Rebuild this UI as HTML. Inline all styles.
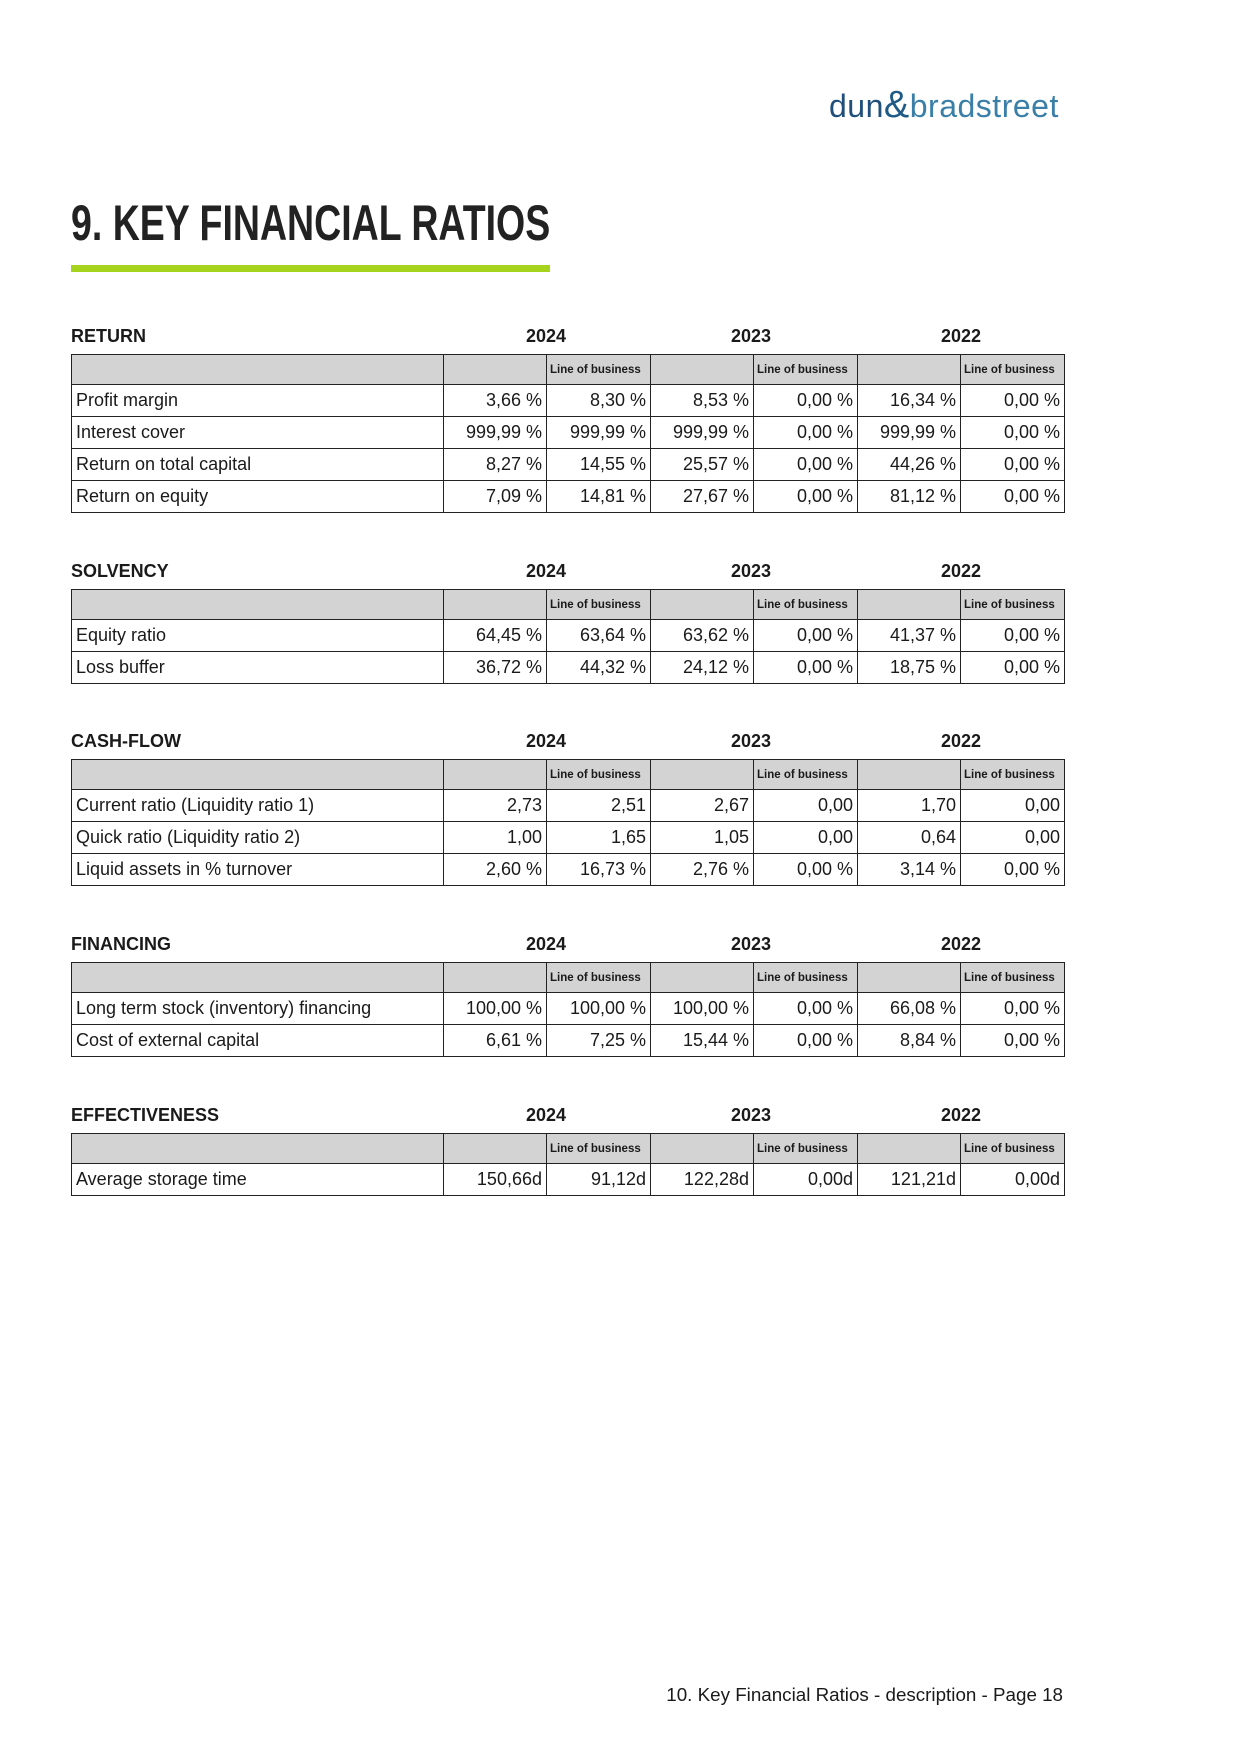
<!DOCTYPE html>
<html><head><meta charset="utf-8"><style>
body{margin:0;width:1241px;height:1754px;background:#fff;position:relative;font-family:"Liberation Sans",sans-serif;color:#1a1a1a;overflow:hidden}
.logo{position:absolute;left:829px;top:84px;font-size:32px;color:#3a7fa8;letter-spacing:0.5px}
.logo b{font-weight:normal;color:#1f4f7a}
.logo i{font-style:normal;color:#1f5a86;font-size:38px}
.title{position:absolute;left:71px;top:194px;font-weight:bold;font-size:50px;transform:scaleX(0.75);transform-origin:left top;color:#222;white-space:nowrap}
.bar{position:absolute;left:71px;top:265px;width:479px;height:7px;background:#a6d41d}
.sec{position:absolute;left:71px;width:1001px}
.h{position:relative;height:20px;font-weight:bold;font-size:18px}
.h span{position:absolute;top:0}
table{border-collapse:collapse;margin-top:8px;table-layout:fixed;width:992px}
td{border:1.3px solid #222;font-size:18px;padding:0 4px;height:31px;text-align:right;white-space:nowrap;overflow:hidden}
td:first-child{text-align:left}
tr.hd td{background:#d3d3d3;height:29px;font-size:11.5px;font-weight:bold;text-align:left;padding:0 3px}
.foot{position:absolute;right:178px;top:1684px;font-size:18.8px}
</style></head><body>
<div class="logo"><b>dun</b><i>&amp;</i>bradstreet</div>
<div class="title">9. KEY FINANCIAL RATIOS</div>
<div class="bar"></div>

<div class="sec" style="top:326px">
<div class="h"><span style="left:0">RETURN</span><span style="left:455px">2024</span><span style="left:660px">2023</span><span style="left:870px">2022</span></div>
<table><colgroup><col style="width:372px"><col style="width:103px"><col style="width:104px"><col style="width:103px"><col style="width:104px"><col style="width:103px"><col style="width:104px"></colgroup>
<tr class="hd"><td></td><td></td><td>Line of business</td><td></td><td>Line of business</td><td></td><td>Line of business</td></tr>
<tr><td>Profit margin</td><td>3,66 %</td><td>8,30 %</td><td>8,53 %</td><td>0,00 %</td><td>16,34 %</td><td>0,00 %</td></tr>
<tr><td>Interest cover</td><td>999,99 %</td><td>999,99 %</td><td>999,99 %</td><td>0,00 %</td><td>999,99 %</td><td>0,00 %</td></tr>
<tr><td>Return on total capital</td><td>8,27 %</td><td>14,55 %</td><td>25,57 %</td><td>0,00 %</td><td>44,26 %</td><td>0,00 %</td></tr>
<tr><td>Return on equity</td><td>7,09 %</td><td>14,81 %</td><td>27,67 %</td><td>0,00 %</td><td>81,12 %</td><td>0,00 %</td></tr>
</table></div>

<div class="sec" style="top:561px">
<div class="h"><span style="left:0">SOLVENCY</span><span style="left:455px">2024</span><span style="left:660px">2023</span><span style="left:870px">2022</span></div>
<table><colgroup><col style="width:372px"><col style="width:103px"><col style="width:104px"><col style="width:103px"><col style="width:104px"><col style="width:103px"><col style="width:104px"></colgroup>
<tr class="hd"><td></td><td></td><td>Line of business</td><td></td><td>Line of business</td><td></td><td>Line of business</td></tr>
<tr><td>Equity ratio</td><td>64,45 %</td><td>63,64 %</td><td>63,62 %</td><td>0,00 %</td><td>41,37 %</td><td>0,00 %</td></tr>
<tr><td>Loss buffer</td><td>36,72 %</td><td>44,32 %</td><td>24,12 %</td><td>0,00 %</td><td>18,75 %</td><td>0,00 %</td></tr>
</table></div>

<div class="sec" style="top:731px">
<div class="h"><span style="left:0">CASH-FLOW</span><span style="left:455px">2024</span><span style="left:660px">2023</span><span style="left:870px">2022</span></div>
<table><colgroup><col style="width:372px"><col style="width:103px"><col style="width:104px"><col style="width:103px"><col style="width:104px"><col style="width:103px"><col style="width:104px"></colgroup>
<tr class="hd"><td></td><td></td><td>Line of business</td><td></td><td>Line of business</td><td></td><td>Line of business</td></tr>
<tr><td>Current ratio (Liquidity ratio 1)</td><td>2,73</td><td>2,51</td><td>2,67</td><td>0,00</td><td>1,70</td><td>0,00</td></tr>
<tr><td>Quick ratio (Liquidity ratio 2)</td><td>1,00</td><td>1,65</td><td>1,05</td><td>0,00</td><td>0,64</td><td>0,00</td></tr>
<tr><td>Liquid assets in % turnover</td><td>2,60 %</td><td>16,73 %</td><td>2,76 %</td><td>0,00 %</td><td>3,14 %</td><td>0,00 %</td></tr>
</table></div>

<div class="sec" style="top:934px">
<div class="h"><span style="left:0">FINANCING</span><span style="left:455px">2024</span><span style="left:660px">2023</span><span style="left:870px">2022</span></div>
<table><colgroup><col style="width:372px"><col style="width:103px"><col style="width:104px"><col style="width:103px"><col style="width:104px"><col style="width:103px"><col style="width:104px"></colgroup>
<tr class="hd"><td></td><td></td><td>Line of business</td><td></td><td>Line of business</td><td></td><td>Line of business</td></tr>
<tr><td>Long term stock (inventory) financing</td><td>100,00 %</td><td>100,00 %</td><td>100,00 %</td><td>0,00 %</td><td>66,08 %</td><td>0,00 %</td></tr>
<tr><td>Cost of external capital</td><td>6,61 %</td><td>7,25 %</td><td>15,44 %</td><td>0,00 %</td><td>8,84 %</td><td>0,00 %</td></tr>
</table></div>

<div class="sec" style="top:1105px">
<div class="h"><span style="left:0">EFFECTIVENESS</span><span style="left:455px">2024</span><span style="left:660px">2023</span><span style="left:870px">2022</span></div>
<table><colgroup><col style="width:372px"><col style="width:103px"><col style="width:104px"><col style="width:103px"><col style="width:104px"><col style="width:103px"><col style="width:104px"></colgroup>
<tr class="hd"><td></td><td></td><td>Line of business</td><td></td><td>Line of business</td><td></td><td>Line of business</td></tr>
<tr><td>Average storage time</td><td>150,66d</td><td>91,12d</td><td>122,28d</td><td>0,00d</td><td>121,21d</td><td>0,00d</td></tr>
</table></div>

<div class="foot">10. Key Financial Ratios - description - Page 18</div>
</body></html>
